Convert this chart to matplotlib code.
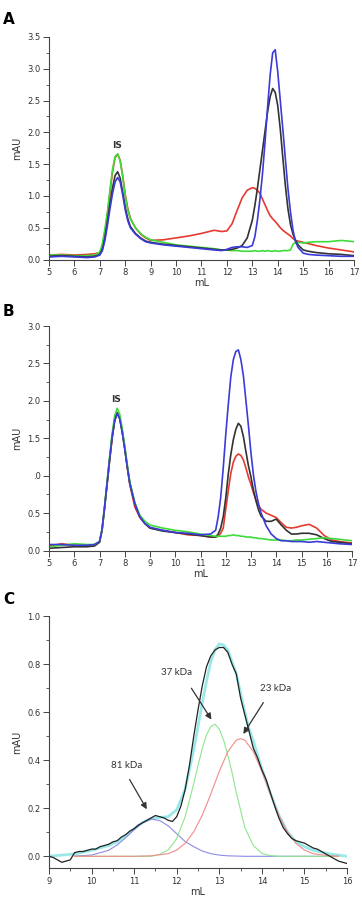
import matplotlib
matplotlib.use("Agg")
import matplotlib.pyplot as plt
from matplotlib.ticker import MultipleLocator

# ---- panel A ----
xa = [5.0, 5.5, 6.0, 6.5, 6.8,
      7.0, 7.1, 7.2, 7.3, 7.4, 7.5, 7.6, 7.7, 7.8, 7.9, 8.0, 8.1, 8.2,
      8.4, 8.6, 8.8, 9.0,
      9.5, 10.0, 10.5, 11.0, 11.5,
      11.8, 12.0,
      12.2, 12.4, 12.6, 12.8,
      13.0, 13.1, 13.2, 13.3, 13.4, 13.5, 13.6, 13.7, 13.8, 13.9, 14.0, 14.1, 14.2, 14.3, 14.4, 14.5, 14.6, 14.7, 14.8,
      15.0, 15.2, 15.5, 16.0, 16.5, 17.0]
a_red = [0.07, 0.08, 0.07, 0.08, 0.09,
         0.11, 0.20, 0.42, 0.72, 1.06, 1.38, 1.60, 1.66, 1.56, 1.32, 1.02, 0.80, 0.65,
         0.50, 0.40, 0.34, 0.30,
         0.31, 0.34, 0.37, 0.41, 0.46,
         0.44, 0.45,
         0.56, 0.77, 0.97, 1.09,
         1.13, 1.12, 1.09, 1.04, 0.95, 0.86, 0.77, 0.69, 0.64, 0.60, 0.55, 0.50, 0.46, 0.43, 0.40, 0.37, 0.33, 0.30, 0.29,
         0.27, 0.25, 0.22, 0.18, 0.15, 0.12]
a_green = [0.07, 0.07, 0.06, 0.06, 0.07,
           0.12, 0.25, 0.48, 0.75, 1.10, 1.42, 1.62, 1.66, 1.55, 1.30, 1.00, 0.78, 0.64,
           0.50, 0.41, 0.35, 0.31,
           0.27, 0.23, 0.21, 0.19, 0.17,
           0.15, 0.15,
           0.14, 0.14, 0.13, 0.13,
           0.13, 0.14, 0.13, 0.13, 0.14, 0.13, 0.14, 0.13, 0.13, 0.14, 0.13, 0.13, 0.14, 0.14, 0.14, 0.15, 0.24, 0.27, 0.27,
           0.26, 0.27, 0.28, 0.28, 0.30, 0.28]
a_black = [0.05, 0.06, 0.05, 0.04, 0.05,
           0.08, 0.16, 0.34, 0.60, 0.88, 1.13, 1.32, 1.38, 1.28, 1.06, 0.82, 0.64, 0.52,
           0.41, 0.34, 0.29, 0.27,
           0.24, 0.22, 0.20, 0.18, 0.16,
           0.15, 0.15,
           0.16, 0.18, 0.22, 0.34,
           0.62, 0.85, 1.12, 1.42, 1.72, 2.02, 2.32, 2.56, 2.69, 2.63, 2.42, 2.05, 1.60, 1.16, 0.80, 0.55, 0.40, 0.30, 0.23,
           0.15, 0.13, 0.11, 0.09, 0.08, 0.06]
a_blue = [0.04, 0.05, 0.04, 0.03, 0.04,
          0.07, 0.14, 0.30, 0.54, 0.80, 1.04, 1.22, 1.29, 1.22, 1.02, 0.78, 0.61, 0.50,
          0.40, 0.33, 0.28, 0.26,
          0.23, 0.21, 0.19, 0.17, 0.15,
          0.14, 0.16,
          0.19, 0.20, 0.20, 0.19,
          0.22, 0.36, 0.62, 0.95, 1.35, 1.85, 2.40, 2.90, 3.25, 3.30, 2.95, 2.50, 2.05, 1.58, 1.12, 0.75, 0.46, 0.28, 0.19,
          0.10, 0.08, 0.07, 0.06, 0.05, 0.05]

# ---- panel B ----
xb = [5.0, 5.5, 6.0, 6.5, 6.8,
      7.0, 7.1, 7.2, 7.3, 7.4, 7.5, 7.6, 7.7, 7.8, 7.9, 8.0, 8.1, 8.2,
      8.4, 8.6, 8.8, 9.0,
      9.5, 10.0, 10.5, 11.0,
      11.4,
      11.6, 11.7, 11.8, 11.9, 12.0, 12.1, 12.2, 12.3, 12.4, 12.5, 12.6, 12.7, 12.8, 12.9, 13.0, 13.1, 13.2, 13.3, 13.4,
      13.6, 13.8, 14.0, 14.2, 14.4, 14.6, 14.8, 15.0, 15.3, 15.6, 15.9, 16.2, 16.5, 17.0]
b_red = [0.06, 0.09, 0.07, 0.06, 0.07,
         0.11, 0.27, 0.56, 0.88, 1.20, 1.50, 1.73, 1.84, 1.77, 1.59, 1.36, 1.11, 0.88,
         0.58, 0.44, 0.36, 0.30,
         0.27, 0.24, 0.21, 0.20,
         0.18,
         0.18, 0.19, 0.23, 0.30, 0.55, 0.80, 1.03, 1.18, 1.26, 1.29, 1.27, 1.21, 1.10, 0.98, 0.88, 0.77, 0.67, 0.60, 0.55,
         0.50, 0.47, 0.44, 0.37, 0.31, 0.30, 0.31, 0.33, 0.35, 0.30, 0.20, 0.14, 0.12, 0.10]
b_green = [0.05, 0.07, 0.09, 0.08, 0.08,
           0.12, 0.28, 0.58, 0.92, 1.25, 1.56, 1.80, 1.90, 1.82, 1.63, 1.40, 1.15, 0.92,
           0.64, 0.47, 0.39, 0.34,
           0.30, 0.27, 0.25, 0.22,
           0.20,
           0.19, 0.19, 0.19, 0.19, 0.19, 0.20, 0.20, 0.21, 0.20, 0.20, 0.19, 0.19, 0.18, 0.18, 0.18, 0.17, 0.17, 0.16, 0.16,
           0.15, 0.14, 0.14, 0.14, 0.13, 0.13, 0.14, 0.14, 0.15, 0.16, 0.17, 0.16, 0.15, 0.13]
b_black = [0.03, 0.04, 0.05, 0.05, 0.06,
           0.11, 0.27, 0.57, 0.89, 1.21, 1.51, 1.74, 1.84, 1.77, 1.59, 1.37, 1.12, 0.90,
           0.62, 0.45, 0.36, 0.30,
           0.26, 0.24, 0.22, 0.20,
           0.18,
           0.18, 0.22, 0.30, 0.45, 0.70, 1.02, 1.28, 1.48, 1.62, 1.70, 1.66, 1.52, 1.32, 1.13, 0.98, 0.80, 0.66, 0.54, 0.46,
           0.39, 0.39, 0.42, 0.34, 0.27, 0.22, 0.22, 0.23, 0.23, 0.21, 0.16, 0.12, 0.11, 0.09]
b_blue = [0.08, 0.08, 0.07, 0.07, 0.08,
          0.12, 0.28, 0.58, 0.90, 1.22, 1.52, 1.74, 1.83, 1.76, 1.58, 1.36, 1.12, 0.90,
          0.63, 0.45, 0.36, 0.31,
          0.27, 0.24, 0.23, 0.21,
          0.22,
          0.27, 0.45, 0.71, 1.10, 1.55, 1.95, 2.32, 2.55, 2.66, 2.68, 2.55, 2.33, 2.00, 1.66, 1.30, 1.00, 0.78, 0.62, 0.50,
          0.33, 0.22, 0.16, 0.13, 0.13, 0.12, 0.12, 0.12, 0.11, 0.12, 0.11, 0.10, 0.09, 0.08]
b_yticks = [0.0, 0.5, 1.0, 1.5, 2.0, 2.5, 3.0]
b_yticklabels = ["0.0", "0.5", ".0", "1.5", "2.0", "2.5", "3.0"]

# ---- panel C ----
xc = [9.0, 9.1, 9.2, 9.3, 9.4, 9.5, 9.6, 9.7, 9.8, 9.9,
      10.0, 10.1, 10.2, 10.3, 10.4, 10.5, 10.6, 10.7, 10.8, 10.9,
      11.0, 11.1, 11.2, 11.3, 11.4, 11.5, 11.6, 11.7, 11.8, 11.9,
      12.0, 12.1, 12.2, 12.3, 12.4, 12.5, 12.6, 12.7, 12.8, 12.9,
      13.0, 13.1, 13.2, 13.3, 13.4, 13.5, 13.6, 13.7, 13.8, 13.9,
      14.0, 14.1, 14.2, 14.3, 14.4, 14.5, 14.6, 14.7, 14.8, 14.9,
      15.0, 15.1, 15.2, 15.3, 15.4, 15.5, 15.6, 15.7, 15.8, 15.9, 16.0]
c_data = [0.00, -0.005, -0.015, -0.025, -0.02, -0.015, 0.015, 0.02, 0.02, 0.025,
          0.03, 0.03, 0.04, 0.045, 0.05, 0.06, 0.065, 0.08, 0.09, 0.105,
          0.115, 0.13, 0.14, 0.15, 0.16, 0.17, 0.165, 0.16, 0.15, 0.145,
          0.165, 0.21, 0.28, 0.38, 0.50, 0.61, 0.71, 0.79, 0.835, 0.86,
          0.87, 0.87, 0.85, 0.80, 0.76, 0.66, 0.59, 0.52, 0.45, 0.41,
          0.36, 0.32, 0.265, 0.21, 0.16, 0.12, 0.095, 0.075, 0.065, 0.06,
          0.055, 0.045, 0.035, 0.03, 0.02, 0.01, 0.0, -0.01, -0.02, -0.025, -0.03]
xfit = [9.0, 9.6, 10.0, 10.4, 10.6, 10.8, 11.0, 11.2, 11.4, 11.6, 11.8, 12.0, 12.2, 12.4, 12.5, 12.6, 12.7, 12.8, 12.9,
        13.0, 13.1, 13.2, 13.3, 13.4, 13.5, 13.6, 13.7, 13.8, 13.9, 14.0, 14.2, 14.4, 14.6, 14.8, 15.0, 15.2, 15.6, 16.0]
c_fit = [0.0, 0.01, 0.025, 0.045, 0.06, 0.085, 0.115, 0.141, 0.157, 0.162, 0.165, 0.194, 0.28, 0.445, 0.54, 0.64, 0.73, 0.81, 0.86,
         0.885, 0.88, 0.86, 0.81, 0.76, 0.68, 0.60, 0.53, 0.48, 0.42, 0.365, 0.262, 0.171, 0.102, 0.06, 0.04, 0.025, 0.01, 0.0]
xg = [9.6, 11.4, 11.6, 11.8, 12.0, 12.2, 12.4, 12.5, 12.6, 12.7, 12.8, 12.9, 13.0, 13.1, 13.2, 13.3, 13.4,
      13.6, 13.8, 14.0, 14.2, 14.4, 15.8]
c_37 = [0.0, 0.0, 0.008, 0.027, 0.074, 0.166, 0.303, 0.379, 0.449, 0.506, 0.541, 0.55, 0.53, 0.485, 0.422, 0.349, 0.265,
        0.12, 0.045, 0.012, 0.003, 0.0, 0.0]
xr = [9.6, 11.0, 11.4, 11.8, 12.0, 12.2, 12.4, 12.6, 12.8, 13.0, 13.2, 13.4, 13.5, 13.6, 13.8, 14.0, 14.2, 14.4,
      14.6, 14.8, 15.0, 15.2, 15.6, 15.8]
c_23 = [0.0, 0.0, 0.002, 0.011, 0.026, 0.054, 0.102, 0.171, 0.259, 0.354, 0.436, 0.484, 0.49, 0.484, 0.436, 0.354,
        0.259, 0.171, 0.102, 0.054, 0.026, 0.011, 0.002, 0.0]
xbl = [9.6, 10.0, 10.4, 10.6, 10.8, 11.0, 11.2, 11.4, 11.6, 11.8, 12.0, 12.2, 12.4, 12.6, 12.8, 13.0, 13.2, 13.6, 15.8]
c_81 = [0.001, 0.005, 0.025, 0.047, 0.077, 0.111, 0.140, 0.155, 0.149, 0.127, 0.094, 0.061, 0.04, 0.022, 0.011,
        0.005, 0.002, 0.0, 0.0]
c_labels = ["81 kDa", "37 kDa", "23 kDa"]
c_label_xy = [(10.83, 0.38), (12.0, 0.765), (14.33, 0.70)]
c_arrow_from = [(10.86, 0.33), (12.31, 0.71), (14.07, 0.65)]
c_arrow_to = [(11.33, 0.186), (12.85, 0.56), (13.53, 0.50)]

RED, GREEN, BLACK, BLUE = "#e53a30", "#3ddc3a", "#333333", "#3b3bd8"
AXC = "#444444"

fig = plt.figure(figsize=(3.62, 9.02), dpi=100)


def style(ax):
    for s in ["top", "right"]:
        ax.spines[s].set_visible(False)
    for s in ["left", "bottom"]:
        ax.spines[s].set_color(AXC)
        ax.spines[s].set_linewidth(0.8)
    ax.tick_params(which="major", length=4, width=0.7, color=AXC, labelsize=6, labelcolor="#333333", pad=2)
    ax.tick_params(which="minor", length=2, width=0.6, color=AXC)
    ax.set_xlabel("mL", fontsize=7, color="#333333", labelpad=1)
    ax.set_ylabel("mAU", fontsize=7, color="#333333", labelpad=4)


axA = fig.add_axes([49 / 362, 1 - 259.5 / 902, 305 / 362, 222.5 / 902])
axA.plot(xa, a_red, color=RED, lw=1.2)
axA.plot(xa, a_green, color=GREEN, lw=1.2)
axA.plot(xa, a_black, color=BLACK, lw=1.2)
axA.plot(xa, a_blue, color=BLUE, lw=1.2)
axA.set_xlim(5, 17)
axA.set_ylim(0, 3.5)
axA.xaxis.set_major_locator(MultipleLocator(1))
axA.yaxis.set_major_locator(MultipleLocator(0.5))
axA.yaxis.set_minor_locator(MultipleLocator(0.25))
axA.yaxis.set_major_formatter(matplotlib.ticker.FormatStrFormatter("%.1f"))
axA.text(7.66, 1.80, "IS", fontsize=6.5, fontweight="bold", color="#333333", ha="center", va="center")
style(axA)

axB = fig.add_axes([49 / 362, 1 - 550.5 / 902, 303 / 362, 224.5 / 902])
axB.plot(xb, b_red, color=RED, lw=1.2)
axB.plot(xb, b_black, color=BLACK, lw=1.2)
axB.plot(xb, b_green, color=GREEN, lw=1.2)
axB.plot(xb, b_blue, color=BLUE, lw=1.2)
axB.set_xlim(5, 17)
axB.set_ylim(0, 3.0)
axB.xaxis.set_major_locator(MultipleLocator(1))
axB.set_yticks(b_yticks)
axB.set_yticklabels(b_yticklabels)
axB.yaxis.set_minor_locator(MultipleLocator(0.25))
axB.text(7.66, 2.02, "IS", fontsize=6.5, fontweight="bold", color="#333333", ha="center", va="center")
style(axB)

axC = fig.add_axes([49 / 362, 1 - 868.3 / 902, 298 / 362, 252 / 902])
axC.plot(xfit, c_fit, color="#9ae8e8", lw=2.0)
axC.plot(xbl, c_81, color="#8c8ce6", lw=0.8)
axC.plot(xg, c_37, color="#8fe68f", lw=0.8)
axC.plot(xr, c_23, color="#f08c8c", lw=0.8)
axC.plot(xc, c_data, color="#222222", lw=0.9)
axC.set_xlim(9, 16)
axC.set_ylim(-0.05, 1.0)
axC.xaxis.set_major_locator(MultipleLocator(1))
axC.xaxis.set_minor_locator(MultipleLocator(0.5))
axC.yaxis.set_major_locator(MultipleLocator(0.2))
axC.yaxis.set_minor_locator(MultipleLocator(0.1))
axC.yaxis.set_major_formatter(matplotlib.ticker.FormatStrFormatter("%.1f"))
for lab, xy, p0, p1 in zip(c_labels, c_label_xy, c_arrow_from, c_arrow_to):
    axC.text(xy[0], xy[1], lab, fontsize=7, family="Lato", color="#333333", ha="center", va="center")
    axC.annotate("", xy=p1, xytext=p0,
                 arrowprops=dict(arrowstyle="-|>", color="#333333", lw=0.9, mutation_scale=9))
style(axC)

fig.text(3 / 362, 1 - 12 / 902, "A", fontsize=11, fontweight="bold", va="top", ha="left")
fig.text(3 / 362, 1 - 304 / 902, "B", fontsize=11, fontweight="bold", va="top", ha="left")
fig.text(3 / 362, 1 - 592 / 902, "C", fontsize=11, fontweight="bold", va="top", ha="left")

fig.savefig("out.png", dpi=100)
